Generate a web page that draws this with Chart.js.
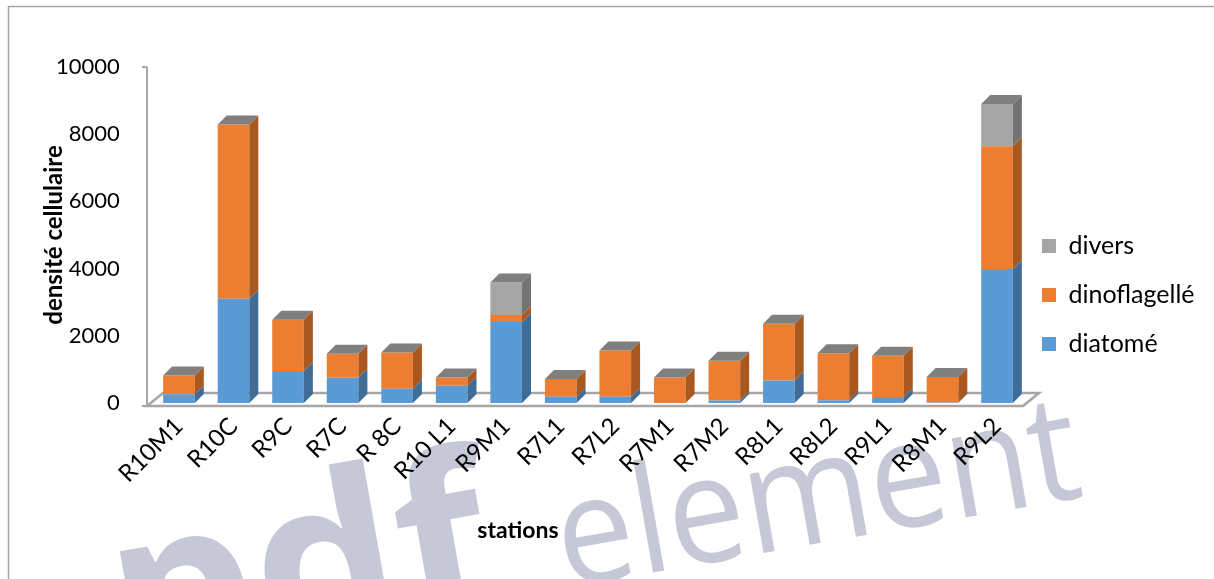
<!DOCTYPE html>
<html>
<head>
<meta charset="utf-8">
<title>densité cellulaire par station</title>
<script src="https://cdn.jsdelivr.net/npm/chart.js@4.4.1/dist/chart.umd.min.js"></script>
<style>
  html, body { margin: 0; padding: 0; background: #ffffff; }
  canvas { display: block; }
</style>
</head>
<body>
<canvas id="chart" width="1214" height="579"></canvas>
<script>
// Stations (x categories)
const stations = ['R10M1', 'R10C', 'R9C', 'R7C', 'R 8C', 'R10 L1', 'R9M1', 'R7L1',
                  'R7L2', 'R7M1', 'R7M2', 'R8L1', 'R8L2', 'R9L1', 'R8M1', 'R9L2'];

// Cell density per group (cells), stacked bottom to top
const diatome      = [258, 3100, 950, 754, 425, 513, 2412, 187, 187, 0, 77, 673, 80, 178, 15, 3988];
const dinoflagelle = [564, 5190, 1525, 712, 1075, 247, 208, 525, 1373, 760, 1178, 1683, 1404, 1228, 756, 3650];
const divers       = [0, 0, 0, 0, 0, 0, 970, 0, 0, 0, 0, 0, 0, 0, 0, 1264];

// Value axis
const yTicks = [0, 2000, 4000, 6000, 8000, 10000];

// Depth of the extruded bars
const DEPTH_X = 9, DEPTH_Y = 9;

const pseudo3d = {
  id: 'pseudo3d',
  beforeDraw(chart) {
    const ctx = chart.ctx;
    ctx.save();
    ctx.fillStyle = '#ffffff';
    ctx.fillRect(0, 0, chart.width, chart.height);
    // watermark
    ctx.translate(124, 678);
    ctx.rotate(-10 * Math.PI / 180);
    ctx.fillStyle = '#c6c8d8';
    ctx.textBaseline = 'alphabetic';
    ctx.textAlign = 'left';
    ctx.font = 'bold 230px "Open Sans"';
    ctx.fillText('pdf', 0, 0);
    ctx.translate(450, -12);
    ctx.scale(0.92, 1);
    ctx.font = '150px "Open Sans"';
    ctx.fillText('element', 0, 0);
    ctx.restore();
  },
  afterLayout(chart) {
    // legend column sits to the right of the floor
    const lg = chart.legend;
    lg.left = 1018; lg.right = chart.width; lg.width = chart.width - 1018;
    lg.top = 11; lg.bottom = 579;
  },
  beforeDatasetsDraw(chart) {
    const ctx = chart.ctx;
    const y = chart.scales.y;
    const area = chart.chartArea;
    const y0 = y.getPixelForValue(0);
    const yTop = y.getPixelForValue(10000);
    const fl = area.left - 4.7, fr = area.right - 1.3;
    ctx.save();
    ctx.strokeStyle = '#a6a6a6';
    ctx.lineWidth = 2.5;
    // floor
    ctx.beginPath();
    ctx.moveTo(fl, y0 + 3);
    ctx.lineTo(fr, y0 + 3);
    ctx.lineTo(fr + 16, y0 - 10);
    ctx.lineTo(fl + 16, y0 - 10);
    ctx.closePath();
    ctx.stroke();
    // value axis line and end ticks
    ctx.lineWidth = 2;
    ctx.beginPath();
    ctx.moveTo(fl, yTop);
    ctx.lineTo(fl, y0 + 3);
    ctx.moveTo(fl - 5, yTop);
    ctx.lineTo(fl, yTop);
    ctx.moveTo(fl - 5, y0 + 3);
    ctx.lineTo(fl, y0 + 3);
    ctx.stroke();
    ctx.restore();
  },
  afterDatasetsDraw(chart) {
    const ctx = chart.ctx;
    const metas = chart.getSortedVisibleDatasetMetas();
    const n = chart.data.labels.length;
    ctx.save();
    for (let i = 0; i < n; i++) {
      let top = null, left = 0, right = 0;
      metas.forEach(meta => {
        const ds = chart.data.datasets[meta.index];
        const el = meta.data[i];
        const p = el.getProps(['x', 'y', 'base', 'width'], true);
        left = p.x - p.width / 2;
        right = p.x + p.width / 2;
        if (Math.abs(p.base - p.y) > 0.05) {
          ctx.fillStyle = ds.sideColor;
          ctx.beginPath();
          ctx.moveTo(right, p.y);
          ctx.lineTo(right + DEPTH_X, p.y - DEPTH_Y);
          ctx.lineTo(right + DEPTH_X, p.base - DEPTH_Y);
          ctx.lineTo(right, p.base);
          ctx.closePath();
          ctx.fill();
        }
        top = top === null ? Math.min(p.y, p.base) : Math.min(top, p.y, p.base);
      });
      // cap of the stack
      ctx.fillStyle = '#7f7f7f';
      ctx.beginPath();
      ctx.moveTo(left, top);
      ctx.lineTo(left + DEPTH_X, top - DEPTH_Y);
      ctx.lineTo(right + DEPTH_X, top - DEPTH_Y);
      ctx.lineTo(right, top);
      ctx.closePath();
      ctx.fill();
    }
    ctx.restore();
  },
  afterDraw(chart) {
    const ctx = chart.ctx;
    ctx.save();
    // category axis title
    ctx.fillStyle = '#000000';
    ctx.font = 'bold 23px Lato';
    ctx.textAlign = 'center';
    ctx.textBaseline = 'middle';
    ctx.fillText('stations', 518, 531);
    // chart frame
    ctx.strokeStyle = '#a6a6a6';
    ctx.lineWidth = 1.5;
    ctx.beginPath();
    ctx.moveTo(8.5, chart.height + 2);
    ctx.lineTo(8.5, 6.5);
    ctx.lineTo(chart.width + 2, 6.5);
    ctx.stroke();
    ctx.restore();
  }
};

new Chart(document.getElementById('chart'), {
  type: 'bar',
  data: {
    labels: stations,
    datasets: [
      { label: 'diatomé', data: diatome, backgroundColor: '#5b9bd5', sideColor: '#3f6d98' },
      { label: 'dinoflagellé', data: dinoflagelle, backgroundColor: '#ed7d31', sideColor: '#a9581f' },
      { label: 'divers', data: divers, backgroundColor: '#a5a5a5', sideColor: '#737373' }
    ]
  },
  options: {
    responsive: false,
    animation: false,
    devicePixelRatio: 1,
    events: [],
    datasets: { bar: { categoryPercentage: 1, barPercentage: 0.58, borderWidth: 0 } },
    layout: { autoPadding: false, padding: { left: 10, top: 67, right: 29.7, bottom: 0 } },
    plugins: {
      tooltip: { enabled: false },
      legend: {
        position: 'right',
        reverse: true,
        maxWidth: 160,
        labels: {
          boxWidth: 14,
          boxHeight: 14,
          padding: 24,
          color: '#000000',
          font: { family: 'Lato', size: 25 }
        }
      }
    },
    scales: {
      x: {
        stacked: true,
        grid: { display: false, drawTicks: false },
        border: { display: false },
        ticks: {
          autoSkip: false,
          maxRotation: 45,
          minRotation: 45,
          padding: 9,
          color: '#000000',
          font: { family: 'Lato', size: 24 }
        },
        afterFit(axis) { axis.height = 176; }
      },
      y: {
        stacked: true,
        min: yTicks[0],
        max: yTicks[yTicks.length - 1],
        grid: { display: false, drawTicks: false },
        border: { display: false },
        afterBuildTicks(axis) { axis.ticks = yTicks.map(v => ({ value: v })); },
        ticks: {
          padding: 32,
          color: '#000000',
          font: { family: 'Lato', size: 22 },
          callback: v => String(v)
        },
        title: {
          display: true,
          text: 'densité cellulaire',
          color: '#000000',
          font: { family: 'Lato', size: 24, weight: 'bold' },
          padding: { top: 30, bottom: 0 }
        },
        afterFit(axis) { axis.width = 141.7; }
      }
    }
  },
  plugins: [pseudo3d]
});
</script>
</body>
</html>
